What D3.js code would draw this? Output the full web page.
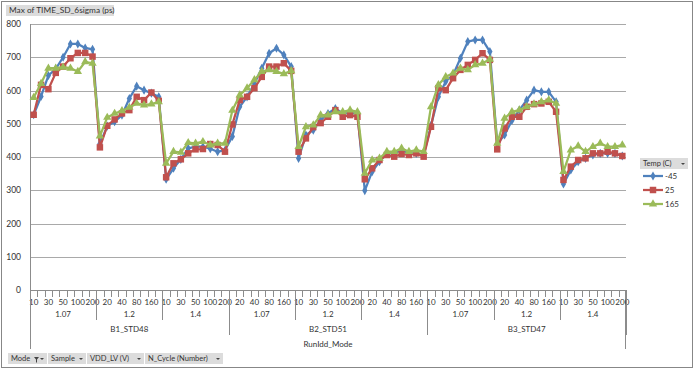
<!DOCTYPE html>
<html>
<head>
<meta charset="utf-8">
<script src="https://cdnjs.cloudflare.com/ajax/libs/d3/7.8.5/d3.min.js"></script>
<style>
	html, body { margin: 0; padding: 0; background: #fff; }
	svg text { font-family: Lato, "Open Sans", sans-serif; fill: #333; }
</style>
</head>
<body>
<svg class="chart" width="695" height="369"></svg>
<script>

	var samples = ["B1_STD48", "B2_STD51", "B3_STD47"];
	var vdds = ["1.07", "1.2", "1.4"];
	var cycles = [10, 20, 30, 40, 50, 80, 100, 160, 200];
	var temps = ["-45", "25", "165"];
	var yTicks = [0, 100, 200, 300, 400, 500, 600, 700, 800];

	// one value per Sample / VDD / N_Cycle, in that order
	var tempM45 = [
		527, 582, 645, 665, 700, 740, 740, 728, 724,
		440, 493, 506, 526, 576, 613, 601, 592, 581,
		333, 366, 393, 426, 431, 431, 425, 416, 420,
		462, 551, 581, 621, 667, 712, 727, 707, 672,
		396, 466, 481, 511, 531, 546, 531, 531, 531,
		299, 356, 386, 411, 411, 421, 411, 411, 406,
		495, 581, 627, 647, 697, 747, 752, 752, 717,
		440, 466, 510, 541, 571, 601, 596, 596, 566,
		319, 361, 386, 396, 406, 411, 411, 411, 403
	];
	var temp25 = [
		527, 617, 604, 653, 672, 697, 713, 713, 702,
		429, 494, 513, 531, 541, 581, 571, 594, 569,
		339, 381, 393, 411, 423, 424, 439, 436, 416,
		498, 571, 581, 607, 641, 672, 672, 682, 659,
		416, 456, 490, 502, 521, 541, 521, 526, 521,
		333, 366, 391, 406, 401, 409, 406, 411, 401,
		491, 607, 601, 637, 662, 677, 692, 712, 692,
		423, 486, 521, 521, 551, 559, 561, 566, 536,
		331, 371, 391, 396, 411, 411, 416, 411, 403
	];
	var temp165 = [
		579, 621, 667, 667, 670, 667, 657, 686, 682,
		463, 519, 531, 539, 549, 561, 556, 559, 566,
		381, 416, 414, 443, 441, 446, 436, 441, 441,
		540, 586, 607, 632, 657, 662, 657, 650, 659,
		431, 491, 496, 526, 526, 536, 536, 541, 536,
		351, 391, 396, 416, 416, 426, 416, 421, 416,
		551, 617, 641, 652, 667, 662, 677, 682, 694,
		441, 516, 536, 541, 551, 559, 566, 571, 561,
		356, 421, 433, 416, 431, 441, 431, 431, 436
	];

	var seriesValues = [tempM45, temp25, temp165];
	var colors = ["#4f81bd", "#c0504d", "#9bbb59"];
	var shapes = [d3.symbolDiamond, d3.symbolSquare, d3.symbolTriangle];
	var shapeSizes = [24, 42, 30];

	var plotLeft = 30, plotRight = 626, plotTop = 24, plotBottom = 290;

	var svg = d3.select(".chart");

	// chart frame
	svg.append("rect")
		.attr("x", 1.5).attr("y", 1.5)
		.attr("width", 691).attr("height", 366)
		.style("fill", "#fff")
		.style("stroke", "#878787");

	var nCat = samples.length * vdds.length * cycles.length;
	var x = d3.scaleBand()
		.domain(d3.range(nCat))
		.range([plotLeft, plotRight]);
	var y = d3.scaleLinear()
		.domain([0, 800])
		.range([plotBottom, plotTop]);

	var perVdd = cycles.length;
	var perSample = vdds.length * cycles.length;

	// gridlines + y labels
	var yAxis = d3.axisLeft(y)
		.tickValues(yTicks)
		.tickSize(-(plotRight - plotLeft))
		.tickPadding(9);
	var yg = svg.append("g")
		.attr("transform", "translate(" + plotLeft + ",0)")
		.call(yAxis);
	yg.select(".domain").remove();
	yg.selectAll(".tick line")
		.style("stroke", "#a9a9a9")
		.attr("shape-rendering", "crispEdges");
	yg.selectAll(".tick text")
		.style("font-size", "8.5px")
		.style("fill", "#333");

	// y axis line running down past the category labels
	svg.append("line")
		.attr("x1", plotLeft + 0.5).attr("x2", plotLeft + 0.5)
		.attr("y1", plotTop).attr("y2", 349)
		.style("stroke", "#8c8c8c");
	svg.append("line")
		.attr("x1", plotRight - 0.5).attr("x2", plotRight - 0.5)
		.attr("y1", plotBottom).attr("y2", 349)
		.style("stroke", "#8c8c8c");

	// category axis: N_Cycle level
	var xAxis = d3.axisBottom(x)
		.tickSize(0)
		.tickPadding(9)
		.tickFormat(function(d){ return d % 2 === 0 ? cycles[d % perVdd] : ""; });
	var xg = svg.append("g")
		.attr("transform", "translate(0," + plotBottom + ")")
		.call(xAxis);
	xg.select(".domain")
		.style("stroke", "#8c8c8c");
	xg.selectAll(".tick text")
		.style("font-size", "8px")
		.style("fill", "#333");

	var bounds = d3.range(nCat + 1);
	svg.append("g").selectAll("line")
		.data(bounds)
		.enter().append("line")
			.attr("x1", function(d){ return Math.round(plotLeft + d * x.bandwidth()) + 0.5; })
			.attr("x2", function(d){ return Math.round(plotLeft + d * x.bandwidth()) + 0.5; })
			.attr("y1", plotBottom)
			.attr("y2", function(d){
				if (d % perSample === 0) return 335;
				if (d % perVdd === 0) return 320;
				return 297;
			})
			.style("stroke", "#8c8c8c");

	// VDD level labels
	var vddGroups = [];
	samples.forEach(function(s, si){
		vdds.forEach(function(v, vi){
			vddGroups.push({ label: v, start: si * perSample + vi * perVdd });
		});
	});
	svg.append("g").selectAll("text")
		.data(vddGroups)
		.enter().append("text")
			.attr("x", function(d){ return x(d.start) + x.bandwidth() * perVdd / 2; })
			.attr("y", 317)
			.attr("text-anchor", "middle")
			.style("font-size", "8px")
			.text(function(d){ return d.label; });

	// Sample level labels
	svg.append("g").selectAll("text")
		.data(samples)
		.enter().append("text")
			.attr("x", function(d, i){ return x(i * perSample) + x.bandwidth() * perSample / 2; })
			.attr("y", 332)
			.attr("text-anchor", "middle")
			.style("font-size", "8px")
			.text(function(d){ return d; });

	svg.append("text")
		.attr("x", (plotLeft + plotRight) / 2)
		.attr("y", 347)
		.attr("text-anchor", "middle")
		.style("font-size", "8px")
		.text("RunIdd_Mode");

	// series
	var line = d3.line()
		.x(function(d, i){ return x(i) + x.bandwidth() / 2; })
		.y(function(d){ return y(d); });

	seriesValues.forEach(function(vals, si){
		var g = svg.append("g");
		g.append("path")
			.datum(vals)
			.attr("d", line)
			.style("fill", "none")
			.style("stroke", colors[si])
			.style("stroke-width", 2.25)
			.style("stroke-linejoin", "round");
		g.selectAll("path.pt")
			.data(vals)
			.enter().append("path")
				.attr("class", "pt")
				.attr("transform", function(d, i){
					return "translate(" + (x(i) + x.bandwidth() / 2) + "," + y(d) + ")";
				})
				.attr("d", d3.symbol().type(shapes[si]).size(shapeSizes[si]))
				.style("fill", colors[si]);
	});

	// field buttons
	function button(bx, by, bw, label, arrow, fs) {
		var b = svg.append("g");
		b.append("rect")
			.attr("x", bx).attr("y", by)
			.attr("width", bw).attr("height", 11)
			.style("fill", "#dcdcdc");
		b.append("text")
			.attr("x", bx + 3).attr("y", by + 8.3)
			.style("font-size", (fs || 7.5) + "px")
			.text(label);
		if (arrow) {
			b.append("path")
				.attr("d", "M" + (bx + bw - 7) + "," + (by + 5) + "l4,0l-2,2z")
				.style("fill", "#444");
		}
		return b;
	}

	button(6, 5, 108, "Max of TIME_SD_6sigma (ps)", false, 8.3);
	var mode = button(8, 353, 39, "Mode", true);
	mode.append("path")
		.attr("d", "M34,357l5,0l-2,2.5l0,3l-1,0l0,-3z")
		.style("fill", "#444");
	button(48, 353, 38, "Sample", true);
	button(87, 353, 57, "VDD_LV (V)", true);
	button(145, 353, 78, "N_Cycle (Number)", true);

	// legend
	button(640, 158, 48, "Temp (C)", true);
	var legend = svg.append("g").selectAll("g")
		.data(temps)
		.enter().append("g")
			.attr("transform", function(d, i){ return "translate(643," + (176 + i * 14) + ")"; });
	legend.append("line")
		.attr("x1", 0).attr("x2", 20)
		.style("stroke", function(d, i){ return colors[i]; })
		.style("stroke-width", 2.25);
	legend.append("path")
		.attr("transform", "translate(10,0)")
		.attr("d", function(d, i){ return d3.symbol().type(shapes[i]).size(shapeSizes[i])(); })
		.style("fill", function(d, i){ return colors[i]; });
	legend.append("text")
		.attr("x", 22).attr("y", 3)
		.style("font-size", "8px")
		.text(function(d){ return d; });

</script>
</body>
</html>
